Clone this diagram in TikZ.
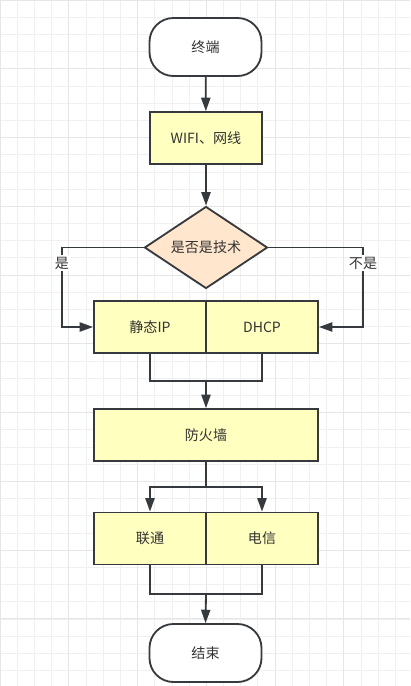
\documentclass[tikz,border=0pt]{standalone}
\usepackage{fontspec}
\newfontfamily\cjk{Noto Sans CJK SC}
\usetikzlibrary{shapes.geometric,arrows.meta,positioning}

\definecolor{stroke}{HTML}{36393D}
\definecolor{boxfill}{HTML}{FFFFC0}
\definecolor{decfill}{HTML}{FFE6CC}
\definecolor{gridminor}{HTML}{F0F0F0}
\definecolor{gridmajor}{HTML}{E6E6E6}
\definecolor{txt}{HTML}{333333}

\begin{document}
\begin{tikzpicture}[x=0.025cm, y=-0.025cm,
			shapebase/.style={draw=stroke, line width=1.3pt, text=txt,
				font=\cjk\fontsize{10}{12}\selectfont, inner sep=2pt},
			term/.style={shapebase, rectangle, rounded corners=0.6cm, fill=white,
				minimum width=2.8cm, minimum height=1.45cm},
			block/.style={shapebase, rectangle, fill=boxfill,
				minimum width=2.8cm, minimum height=1.3cm},
			wideblock/.style={block, minimum width=5.6cm},
			decision/.style={shapebase, diamond, aspect=1.5, fill=decfill,
				minimum width=3.075cm, minimum height=2.05cm},
			line/.style={draw=stroke, line width=1.3pt, -{Triangle[length=9.5pt,width=6.5pt]}},
			merge/.style={draw=stroke, line width=0.9pt},
			lbl/.style={fill=white, text=txt, inner sep=1pt,
				font=\cjk\fontsize{10}{12}\selectfont}]
			
			% Background grid
			\useasboundingbox (0,0) rectangle (410,686);
			\fill[white] (0,0) rectangle (410,686);
			\draw[gridminor, line width=0.6pt, step=0.4297cm] (0,0) grid (410,686);
			\draw[gridmajor, line width=0.7pt, step=1.71875cm] (0,0) grid (410,686);
			
			% Start and access
			\node[term] (T1) at (205.5,47) {终端};
			\node[block] (W) at (206,138) {WIFI、网线};
			\node[decision] (D) at (206,247.5) {是否是技术};
			\path[line] (T1) -- (W);
			\path[line] (W) -- (D);
			
			% Address assignment
			\node[block] (S) at (150,327) {静态IP};
			\node[block] (H) at (262,327) {DHCP};
			\coordinate (yes) at (62,247.5);
			\coordinate (no) at (363,247.5);
			\path[line] (D.west) -- (yes) |- (S.west);
			\path[line] (D.east) -- (no) |- (H.east);
			\node[lbl] (yesL) at (62,263) {是};
			\node[lbl] (noL) at (363,263) {不是};
			
			% Firewall
			\node[wideblock] (F) at (206,435) {防火墙};
			\coordinate (m1) at (206,381);
			\path[merge] (S.south) |- (m1) -| (H.south);
			\path[line] (m1) -- (F.north);
			
			% Carriers
			\node[block] (L) at (150,538.5) {联通};
			\node[block] (X) at (262,538.5) {电信};
			\coordinate (s1) at (206,487);
			\path[merge] (F.south) -- (s1);
			\path[line] (s1) -| (L.north);
			\path[line] (s1) -| (X.north);
			
			% End
			\node[term] (E) at (205.5,653) {结束};
			\coordinate (m2) at (206,594);
			\path[merge, line width=1.3pt] (L.south) |- (m2) -| (X.south);
			\path[line] (m2) -- (E.north);
		\end{tikzpicture}
\end{document}
